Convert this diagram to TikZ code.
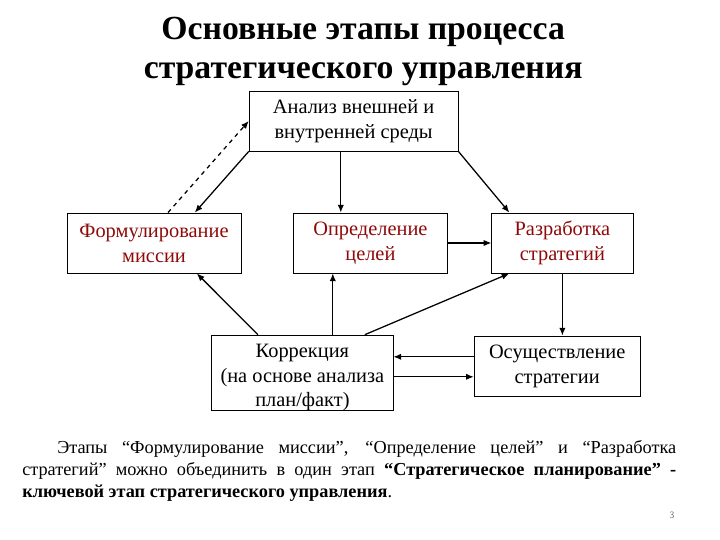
\documentclass[tikz,border=0pt]{standalone}
\usepackage{fontspec}
\setmainfont{Liberation Serif}
\usepackage{xcolor}
\usetikzlibrary{calc,positioning,arrows.meta}
\definecolor{etapred}{HTML}{8E0A0A}
\begin{document}
\begin{tikzpicture}[
  etap/.style={draw,line width=0.6pt,align=center,inner sep=2pt,font=\fontsize{14.5}{17.7}\selectfont},
  arr/.style={line width=0.9pt,-{Latex[length=5.5pt,width=4.5pt]}}]
\useasboundingbox (0,0) rectangle (18,13.5);
\node[font=\fontsize{24}{27.5}\selectfont\bfseries,align=center] (title) at (9.08,12.22) {Основные этапы процесса\\стратегического управления};
\node[etap,minimum width=5.22cm,minimum height=1.5cm] (analiz) at (8.84,10.475) {Анализ внешней и\\внутренней среды};
\node[etap,minimum width=4.35cm,minimum height=1.5cm,text=etapred] (missiya) at (3.85,7.425) {Формулирование\\миссии};
\node[etap,minimum width=3.83cm,minimum height=1.5cm,text=etapred] (celi) at (9.26,7.425) {Определение\\целей};
\node[etap,minimum width=3.53cm,minimum height=1.5cm,text=etapred] (strat) at (14.06,7.425) {Разработка\\стратегий};
\node[etap,minimum width=4.53cm,minimum height=1.85cm,inner ysep=0pt,font=\fontsize{14.5}{17.4}\selectfont] (korr) at (7.56,4.175) {\rule{0pt}{16pt}Коррекция\\(на основе анализа\\план/факт)};
\node[etap,minimum width=4.15cm,minimum height=1.5cm] (osush) at (13.93,4.35) {Осуществление\\стратегии};
\coordinate (c1) at ([xshift=-0.74cm]celi.north);
\draw[arr,dashed] ([xshift=0.35cm]missiya.north) -- (analiz.west);
\draw[arr] (analiz.south west) -- ([xshift=1.02cm]missiya.north);
\draw[arr] (analiz.south -| c1) -- (c1);
\draw[arr] (analiz.south east) -- ([xshift=0.45cm]strat.north west);
\draw[arr] (celi.east) -- (strat.west);
\draw[arr] (strat.south) -- (strat.south |- osush.north);
\draw[arr] ([yshift=0.23cm]osush.west) -- ([yshift=0.23cm]osush.west -| korr.east);
\draw[arr] ([yshift=-0.27cm]osush.west -| korr.east) -- ([yshift=-0.27cm]osush.west);
\draw[arr] ([xshift=0.76cm]korr.north) -- ([xshift=0.76cm]korr.north |- celi.south);
\draw[arr] ([xshift=1.56cm]korr.north) -- ([xshift=0.45cm]strat.south west);
\draw[arr] ([xshift=-1.11cm]korr.north) -- ([xshift=1.07cm]missiya.south);
\node[anchor=north west,inner sep=0pt,text width=16.35cm,align=justify,font=\fontsize{13}{15.6}\selectfont] (note) at (0.55,2.5)
  {\hyphenpenalty=10000\hspace*{0.875cm}Этапы “Формулирование миссии”, “Определение целей” и “Разработка\linebreak стратегий” можно объединить в один этап \textbf{“Стратегическое планирование” -\linebreak ключевой этап стратегического управления}.};
\node[font=\fontsize{7}{8}\selectfont\sffamily,text=gray] (page) at (16.8,0.62) {3};
\end{tikzpicture}
\end{document}
